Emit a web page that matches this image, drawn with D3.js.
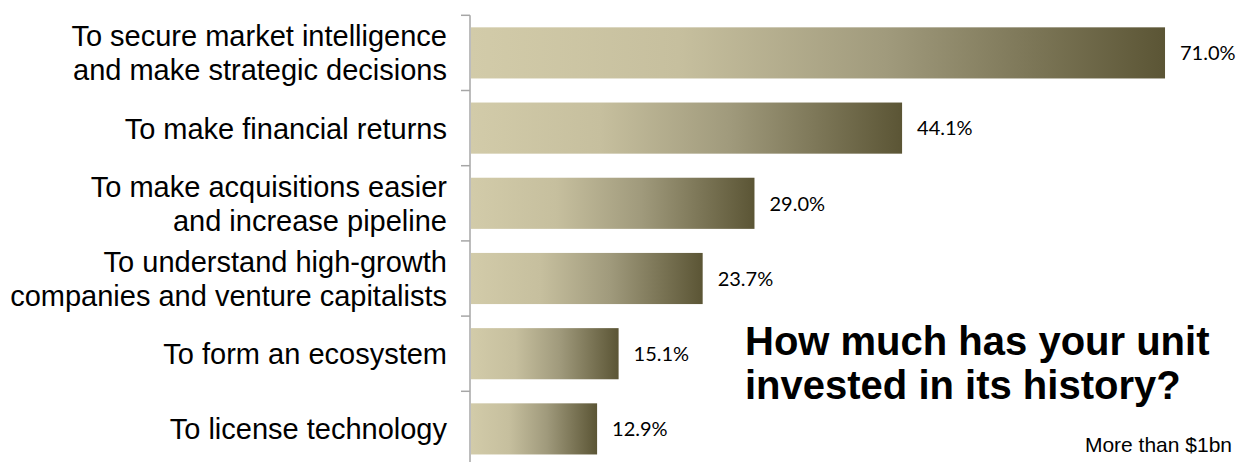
<!DOCTYPE html>
<html>
<head>
<meta charset="utf-8">
<script src="https://cdn.jsdelivr.net/npm/d3@7"></script>
<style>
  html, body { margin: 0; padding: 0; background: #fff; }
  svg { display: block; }
</style>
</head>
<body>
<svg id="chart" width="1245" height="462"></svg>
<script>
// Reasons for corporate venture investing, share of respondents (%)
const categories = [
  ["To secure market intelligence", "and make strategic decisions"],
  ["To make financial returns"],
  ["To make acquisitions easier", "and increase pipeline"],
  ["To understand high-growth", "companies and venture capitalists"],
  ["To form an ecosystem"],
  ["To license technology"]
];
const values = [71.0, 44.1, 29.0, 23.7, 15.1, 12.9];
const titleLines = ["How much has your unit", "invested in its history?"];
const subtitle = "More than $1bn";

const svg = d3.select("#chart");
const axisX = 470;
const bandTop = 15.3;
const bandStep = 75.2;

const x = d3.scaleLinear().domain([0, 80]).range([axisX + 1, axisX + 1 + 80 * 9.775]);
const y = d3.scaleBand()
  .domain(d3.range(categories.length))
  .range([bandTop, bandTop + bandStep * categories.length])
  .paddingInner(0.32)
  .paddingOuter(0.16);

// horizontal gradient applied per bar
const defs = svg.append("defs");
const grad = defs.append("linearGradient")
  .attr("id", "barGrad")
  .attr("x1", "0%").attr("x2", "100%").attr("y1", "0%").attr("y2", "0%");
[[0, "#d2cba9"], [0.3, "#c6bf9e"], [0.6, "#a09a7c"], [1, "#5b5535"]].forEach(([o, c]) => {
  grad.append("stop").attr("offset", o).attr("stop-color", c);
});

// bars
svg.append("g").selectAll("rect")
  .data(values)
  .join("rect")
  .attr("x", x(0))
  .attr("y", (d, i) => y(i))
  .attr("width", d => x(d) - x(0))
  .attr("height", y.bandwidth())
  .attr("fill", "url(#barGrad)");

// category axis with ticks on band boundaries
const step = y.step();
const axisG = svg.append("g");
axisG.append("line")
  .attr("x1", axisX).attr("x2", axisX)
  .attr("y1", bandTop).attr("y2", bandTop + step * categories.length)
  .attr("stroke", "#a6a6a6").attr("stroke-width", 1.5);
axisG.selectAll("line.tick")
  .data(d3.range(categories.length + 1))
  .join("line")
  .attr("class", "tick")
  .attr("x1", axisX - 9).attr("x2", axisX)
  .attr("y1", d => bandTop + d * step).attr("y2", d => bandTop + d * step)
  .attr("stroke", "#a6a6a6").attr("stroke-width", 1.5);

// category labels
const lineH = 34;
const labelFont = 29;
svg.append("g").selectAll("text")
  .data(categories)
  .join("text")
  .attr("text-anchor", "end")
  .attr("font-family", "Liberation Sans, Arial, sans-serif")
  .attr("font-size", labelFont)
  .attr("fill", "#000")
  .each(function(lines, i) {
    const cy = bandTop + step * (i + 0.5);
    d3.select(this).selectAll("tspan")
      .data(lines)
      .join("tspan")
      .attr("x", 447)
      .attr("y", (l, k) => cy + (k - (lines.length - 1) / 2) * lineH + labelFont * 0.36)
      .text(l => l);
  });

// value labels
svg.append("g").selectAll("text")
  .data(values)
  .join("text")
  .attr("x", d => x(d) + 15)
  .attr("y", (d, i) => y(i) + y.bandwidth() / 2)
  .attr("dy", "0.36em")
  .attr("font-family", "Lato, 'Open Sans', sans-serif")
  .attr("font-size", 20)
  .attr("fill", "#000")
  .text(d => d.toFixed(1) + "%");

// inset question and answer
svg.append("g").selectAll("text")
  .data(titleLines)
  .join("text")
  .attr("x", 745)
  .attr("y", (d, i) => 355 + i * 44)
  .attr("font-family", "Liberation Sans, Arial, sans-serif")
  .attr("font-weight", "bold")
  .attr("font-size", 40)
  .attr("fill", "#000")
  .text(d => d);

svg.append("text")
  .attr("x", 1232)
  .attr("y", 452)
  .attr("text-anchor", "end")
  .attr("font-family", "Liberation Sans, Arial, sans-serif")
  .attr("font-size", 21)
  .attr("fill", "#000")
  .text(subtitle);
</script>
</body>
</html>
